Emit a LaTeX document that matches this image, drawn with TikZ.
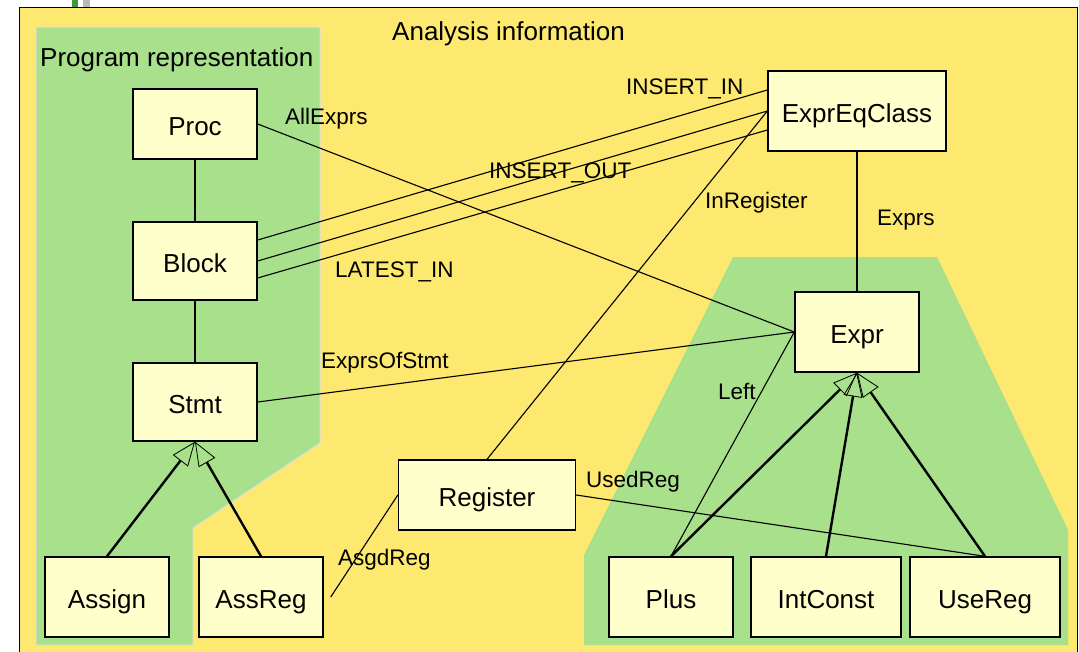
\documentclass[tikz,border=0pt]{standalone}
\usepackage{fontspec}
\setmainfont{Liberation Sans}
\usetikzlibrary{arrows.meta}

\definecolor{analysisyellow}{RGB}{253,232,112}
\definecolor{reprgreen}{RGB}{168,224,140}
\definecolor{classfill}{RGB}{255,255,204}

\tikzset{
  cls/.style={draw, fill=classfill, line width=1.4pt, minimum width=124pt,
    minimum height=78pt, inner sep=0pt, text height=22.6pt, text depth=0pt,
    font=\fontsize{26}{30}\selectfont},
  assoc/.style={line width=1.1pt},
  lbl/.style={anchor=base west, inner sep=0pt, font=\fontsize{22.5}{26}\selectfont},
  inherit/.style={line width=2.4pt,
    -{Triangle[open, length=24pt, width=19pt, line width=0.8pt]}},
  region/.style={fill=reprgreen, draw=gray!25, line width=1pt},
}

\begin{document}
\begin{tikzpicture}[x=1pt, y=-1pt]
\useasboundingbox (0,0) rectangle (1079,651);
\clip (0,0) rectangle (1079,651);

% bits cut off at the top
\fill[green!45!black!75] (72,0) rectangle (78,7);
\fill[gray!55] (83,0) rectangle (90,7);

% regions
\draw[fill=analysisyellow, line width=0.8pt] (19,7) rectangle (1077,670);
\draw[region] (36,27) -- (320,27) -- (320,443) -- (193,528) -- (193,645) -- (36,645) -- cycle;
\fill[reprgreen] (733,257) -- (937,257) -- (1068,530) -- (1068,645) -- (584,645) -- (584,555) -- cycle;

\node[lbl, font=\fontsize{26}{30}\selectfont] (analysis) at (392,40) {Analysis information};
\node[lbl, font=\fontsize{26}{30}\selectfont] (progrep) at (40,66) {Program representation};

% classes
\node[cls, minimum height=70pt] (proc) at (195,124) {Proc};
\node[cls] (block) at (195,261) {Block};
\node[cls] (stmt) at (195,402) {Stmt};
\node[cls, minimum height=80pt] (assign) at (107,597) {Assign};
\node[cls, minimum height=80pt] (assreg) at (261,597) {AssReg};
\node[cls, minimum width=177pt, minimum height=70pt] (register) at (487,495) {Register};
\node[cls, minimum width=178pt, minimum height=80pt] (eqclass) at (857,111) {ExprEqClass};
\node[cls, minimum height=80pt] (expr) at (857,332) {Expr};
\node[cls, minimum height=80pt] (plus) at (671,597) {Plus};
\node[cls, minimum width=150pt, minimum height=80pt] (intconst) at (826,597) {IntConst};
\node[cls, minimum width=150pt, minimum height=80pt] (usereg) at (985,597) {UseReg};

% associations
\draw[assoc] (proc) -- (block);
\draw[assoc] (block) -- (stmt);
\draw[assoc] (proc.east) -- (expr.west);
\draw[assoc] (stmt.east) -- (expr.west);
\draw[assoc] ([yshift=21pt]block.east) -- ([yshift=21pt]eqclass.west);
\draw[assoc] (block.east) -- (eqclass.west);
\draw[assoc] ([yshift=-17pt]block.east) -- ([yshift=-19pt]eqclass.west);
\draw[assoc] (register.north) -- (eqclass.west);
\draw[assoc] (eqclass) -- (expr);
\draw[assoc] (register.west) -- ([xshift=7pt]assreg.east);
\draw[assoc] (register.east) -- (usereg.north);
\draw[assoc] (expr.west) -- (plus.north);

% generalisations
\draw[inherit] (assign.north) -- (stmt.south);
\draw[inherit] (assreg.north) -- (stmt.south);
\draw[inherit] (plus.north) -- (expr.south);
\draw[inherit] (intconst.north) -- (expr.south);
\draw[inherit] (usereg.north) -- (expr.south);

% role names
\node[lbl] (insertin) at (626,94) {INSERT\_IN};
\node[lbl] (allexprs) at (285,124) {AllExprs};
\node[lbl] (insertout) at (489,178) {INSERT\_OUT};
\node[lbl] (inregister) at (705,208) {InRegister};
\node[lbl] (latestin) at (335,277) {LATEST\_IN};
\node[lbl] (exprs) at (877,225) {Exprs};
\node[lbl] (exprsofstmt) at (321,368) {ExprsOfStmt};
\node[lbl] (left) at (718,399) {Left};
\node[lbl] (usedreg) at (586,487) {UsedReg};
\node[lbl] (asgdreg) at (338,565) {AsgdReg};
\end{tikzpicture}
\end{document}
